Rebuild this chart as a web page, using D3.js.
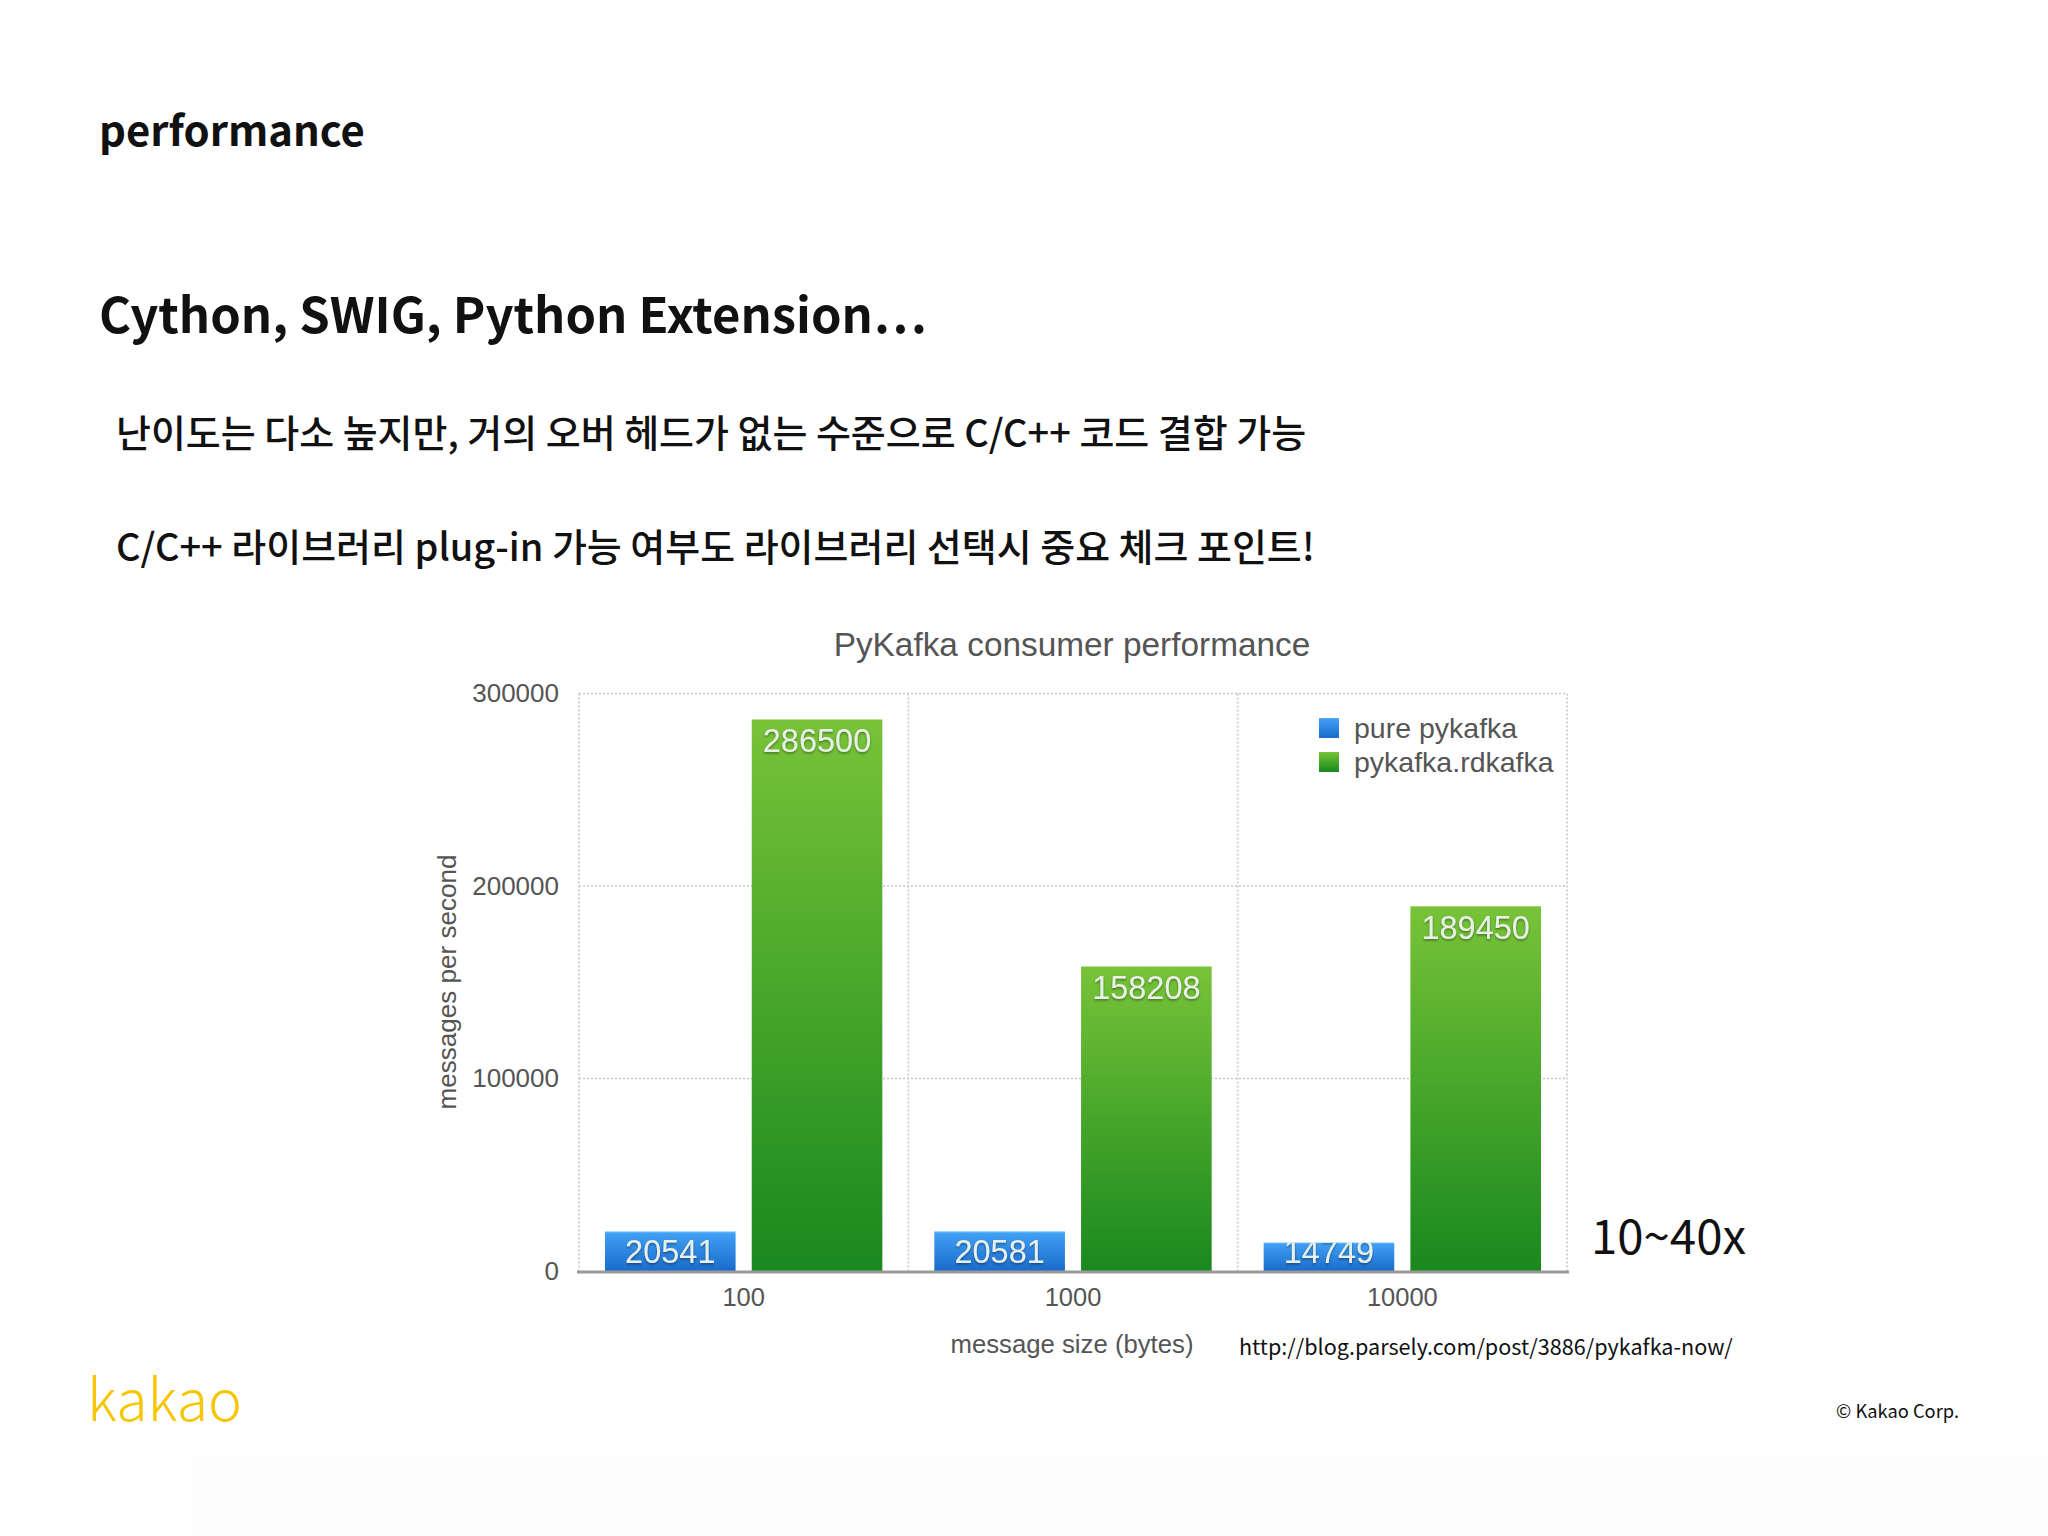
<!DOCTYPE html>
<html>
<head>
<meta charset="utf-8">
<script src="https://cdn.jsdelivr.net/npm/d3@7"></script>
<style>
  html, body { margin: 0; padding: 0; background: #ffffff; }
  svg { display: block; }
</style>
</head>
<body>
<script>
// ---- data ----
const categories = ["100", "1000", "10000"];
const seriesNames = ["pure pykafka", "pykafka.rdkafka"];
const pureValues = [20541, 20581, 14749];
const rdkafkaValues = [286500, 158208, 189450];
const yTicks = [0, 100000, 200000, 300000];
const chartTitle = "PyKafka consumer performance";
const xAxisTitle = "message size (bytes)";
const yAxisTitle = "messages per second";

const W = 2048, H = 1536;
const svg = d3.select("body").append("svg").attr("width", W).attr("height", H);

const defs = svg.append("defs");
function vgrad(id, stops) {
  const g = defs.append("linearGradient").attr("id", id)
    .attr("x1", 0).attr("y1", 0).attr("x2", 0).attr("y2", 1);
  stops.forEach(s => g.append("stop").attr("offset", s[0]).attr("stop-color", s[1]));
}
vgrad("gBlue", [[0, "#6cbaff"], [0.06, "#3f9ff3"], [1, "#1a6bcb"]]);
vgrad("gGreen", [[0, "#78c338"], [0.5, "#47a62a"], [1, "#19881f"]]);
const shadow = defs.append("filter").attr("id", "shd").attr("x", "-10%").attr("y", "-20%").attr("width", "120%").attr("height", "150%");
shadow.append("feDropShadow").attr("dx", 0).attr("dy", 1.5).attr("stdDeviation", 1.2)
  .attr("flood-color", "#000").attr("flood-opacity", 0.4);

// faint screenshot background tint
svg.append("rect").attr("x", 193).attr("y", 1456).attr("width", W - 193).attr("height", H - 1456).attr("fill", "#fdfdfe");

// helper: fit text to a target width by adjusting font-size
function fit(sel, targetW) {
  const n = sel.node();
  const fs = parseFloat(sel.attr("font-size"));
  const w = n.getComputedTextLength();
  if (w > 0) sel.attr("font-size", (fs * targetW / w).toFixed(2));
  return sel;
}

const KR = "'Noto Sans CJK KR', 'Noto Sans', sans-serif";
const HV = "'Liberation Sans', Arial, Helvetica, sans-serif";

// ---- slide text ----
fit(svg.append("text").attr("x", 99).attr("y", 146).attr("font-family", KR).attr("font-weight", 700)
  .attr("font-size", 44).attr("fill", "#111").text("performance"), 266);
fit(svg.append("text").attr("x", 99).attr("y", 333).attr("font-family", KR).attr("font-weight", 700)
  .attr("font-size", 54).attr("fill", "#111").text("Cython, SWIG, Python Extension…"), 828);
fit(svg.append("text").attr("x", 116).attr("y", 447).attr("font-family", KR).attr("font-weight", 500)
  .attr("font-size", 38).attr("fill", "#111").text("난이도는 다소 높지만, 거의 오버 헤드가 없는 수준으로 C/C++ 코드 결합 가능"), 1190);
fit(svg.append("text").attr("x", 116).attr("y", 561).attr("font-family", KR).attr("font-weight", 500)
  .attr("font-size", 38).attr("fill", "#111").text("C/C++ 라이브러리 plug-in 가능 여부도 라이브러리 선택시 중요 체크 포인트!"), 1199);

// ---- chart ----
const x0 = d3.scaleBand().domain(categories).range([579, 1567]).padding(0);
const x1 = d3.scaleBand().domain(seriesNames).range([26, x0.bandwidth() - 26]).paddingInner(0.11);
const y = d3.scaleLinear().domain([0, 300000]).range([1271, 693.5]);

// grid
const grid = svg.append("g");
grid.selectAll("line.h").data(yTicks.filter(d => d > 0)).join("line")
  .attr("x1", 579).attr("x2", 1567).attr("y1", d => y(d)).attr("y2", d => y(d))
  .attr("stroke", "#c8c8c8").attr("stroke-width", 1.6).attr("stroke-dasharray", "2,2");
const vb = categories.map(c => x0(c)).concat([x0.range()[1]]);
grid.selectAll("line.v").data(vb).join("line")
  .attr("x1", d => d).attr("x2", d => d).attr("y1", y(300000)).attr("y2", y(0))
  .attr("stroke", "#c8c8c8").attr("stroke-width", 1.6).attr("stroke-dasharray", "2,2");

// bars
const rows = categories.map((c, i) => ({ cat: c, vals: [
  { s: seriesNames[0], v: pureValues[i], id: "c" + i + "a" },
  { s: seriesNames[1], v: rdkafkaValues[i], id: "c" + i + "b" }] }));
rows.forEach(r => r.vals.forEach(d => {
  defs.append("clipPath").attr("id", d.id).append("rect")
    .attr("x", x0(r.cat) + x1(d.s)).attr("width", x1.bandwidth())
    .attr("y", y(d.v)).attr("height", y(0) - y(d.v));
}));
const grp = svg.append("g").selectAll("g").data(rows).join("g")
  .attr("transform", d => `translate(${x0(d.cat)},0)`);
grp.selectAll("rect").data(d => d.vals).join("rect")
  .attr("x", d => x1(d.s)).attr("width", x1.bandwidth())
  .attr("y", d => y(d.v)).attr("height", d => y(0) - y(d.v))
  .attr("fill", d => d.s === seriesNames[0] ? "url(#gBlue)" : "url(#gGreen)");
// labels (clipped to their bar)
svg.append("g").selectAll("g").data(rows.flatMap(r => r.vals.map(d => ({ ...d, cat: r.cat }))))
  .join("g").attr("clip-path", d => `url(#${d.id})`)
  .append("text")
  .attr("x", d => x0(d.cat) + x1(d.s) + x1.bandwidth() / 2)
  .attr("y", d => Math.min(y(d.v) + 33, y(0) - 8))
  .attr("text-anchor", "middle").attr("font-family", HV).attr("font-size", 32.5)
  .attr("fill", "#e9efe9").attr("filter", "url(#shd)")
  .text(d => d.v);

// axis baseline
svg.append("line").attr("x1", 577).attr("x2", 1569).attr("y1", y(0) + 1).attr("y2", y(0) + 1)
  .attr("stroke", "#9a9a9a").attr("stroke-width", 3);

// y axis labels
const yAxis = d3.axisLeft(y).tickValues(yTicks).tickSize(0).tickPadding(0).tickFormat(d3.format("d"));
const yg = svg.append("g").attr("transform", "translate(559,0)").call(yAxis);
yg.select(".domain").remove();
yg.selectAll("text").attr("font-family", HV).attr("font-size", 26).attr("fill", "#555");

// x axis labels
const xAxis = d3.axisBottom(x0).tickSize(0).tickPadding(0);
const xg = svg.append("g").attr("transform", `translate(0,1288)`).call(xAxis);
xg.select(".domain").remove();
xg.selectAll("text").attr("font-family", HV).attr("font-size", 25.5).attr("fill", "#555");

// titles
fit(svg.append("text").attr("x", 1072).attr("y", 656).attr("text-anchor", "middle")
  .attr("font-family", HV).attr("font-size", 31).attr("fill", "#555").text(chartTitle), 477);
fit(svg.append("text").attr("x", 1072).attr("y", 1353).attr("text-anchor", "middle")
  .attr("font-family", HV).attr("font-size", 25).attr("fill", "#555").text(xAxisTitle), 243);
fit(svg.append("text").attr("transform", "translate(456,982) rotate(-90)").attr("text-anchor", "middle")
  .attr("font-family", HV).attr("font-size", 25).attr("fill", "#555").text(yAxisTitle), 255);

// legend
const lg = svg.append("g").selectAll("g").data(seriesNames).join("g")
  .attr("transform", (d, i) => `translate(1319,${718 + i * 34})`);
lg.append("rect").attr("width", 20).attr("height", 20)
  .attr("fill", (d, i) => i === 0 ? "url(#gBlue)" : "url(#gGreen)");
lg.append("text").attr("x", 35).attr("y", 20).attr("font-family", HV).attr("font-size", 28.5)
  .attr("fill", "#555").text(d => d);

// annotations
fit(svg.append("text").attr("x", 1591).attr("y", 1254).attr("font-family", KR).attr("font-weight", 400)
  .attr("font-size", 46).attr("fill", "#111").text("10~40x"), 155);
fit(svg.append("text").attr("x", 1239).attr("y", 1355).attr("font-family", KR).attr("font-weight", 400)
  .attr("font-size", 24).attr("fill", "#111").text("http://blog.parsely.com/post/3886/pykafka-now/"), 494);

// footer
fit(svg.append("text").attr("x", 87).attr("y", 1421).attr("font-family", KR).attr("font-weight", 300)
  .attr("font-size", 62).attr("fill", "#f7c600").text("kakao"), 155);
fit(svg.append("text").attr("x", 1959).attr("y", 1418).attr("text-anchor", "end").attr("font-family", KR)
  .attr("font-weight", 400).attr("font-size", 20).attr("fill", "#111").text("© Kakao Corp."), 123);
</script>
</body>
</html>
